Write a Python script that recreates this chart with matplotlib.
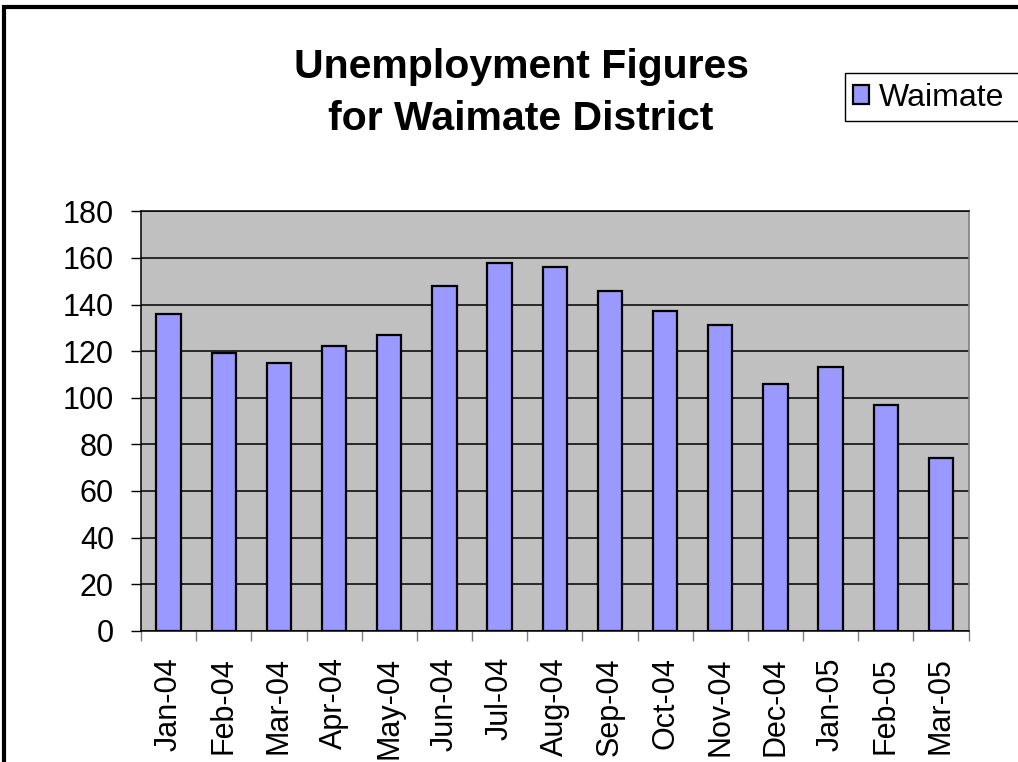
import matplotlib
matplotlib.use("Agg")
import matplotlib.pyplot as plt
from matplotlib.patches import Rectangle

plt.rcParams['font.family'] = ['Liberation Sans', 'DejaVu Sans']

months = ["Jan-04", "Feb-04", "Mar-04", "Apr-04", "May-04", "Jun-04", "Jul-04",
          "Aug-04", "Sep-04", "Oct-04", "Nov-04", "Dec-04", "Jan-05", "Feb-05", "Mar-05"]
waimate = [136, 119, 115, 122, 127, 148, 158, 156, 146, 137, 131, 106, 113, 97, 74]
y_ticks = [0, 20, 40, 60, 80, 100, 120, 140, 160, 180]
title_lines = ["Unemployment Figures", "for Waimate District"]

W, H = 1018, 762
fig = plt.figure(figsize=(W / 100, H / 100), dpi=100)
fig.patch.set_facecolor('white')

# outer chart border (extends past right/bottom edges)
fig.patches.append(Rectangle((4 / W, -0.1), 1.2, 1 - 7 / H + 0.1, transform=fig.transFigure,
                             fill=False, edgecolor='black', linewidth=3, zorder=0))

ax = fig.add_axes([141 / W, 1 - 630.7 / H, (968.5 - 141) / W, 419.4 / H])
ax.set_facecolor('#C0C0C0')
x = list(range(len(months)))
bars = ax.bar(x, waimate, width=0.44, color='#9999FF', edgecolor='black', linewidth=1.6,
              zorder=3, label='Waimate')
ax.set_xlim(-0.5, len(months) - 0.5)
ax.set_ylim(0, 180)
ax.set_yticks(y_ticks)
ax.yaxis.grid(True, color='black', linewidth=1.1, zorder=1)
ax.set_axisbelow(True)
ax.tick_params(axis='y', labelsize=22, direction='out', length=7.5, width=1, pad=12, color='black')
ax.set_xticks(x)
ax.set_xticklabels(months, rotation=90, fontsize=22)
ax.tick_params(axis='x', length=0, pad=19)
ax.set_xticks([i - 0.5 for i in range(len(months) + 1)], minor=True)
ax.tick_params(axis='x', which='minor', length=7.5, width=1, color='#808080', direction='out')
for s in ['left', 'bottom', 'top']:
    ax.spines[s].set_color('black')
    ax.spines[s].set_linewidth(1.1)
ax.spines['right'].set_color('#808080')
ax.spines['right'].set_linewidth(1.2)

fig.text(521 / W, 1 - 78 / H, title_lines[0], ha='center', va='baseline',
         fontsize=29.5, fontweight='bold')
fig.text(521 / W, 1 - 130 / H, title_lines[1], ha='center', va='baseline',
         fontsize=29.5, fontweight='bold')

# legend box
fig.patches.append(Rectangle((845 / W, 1 - 121 / H), 0.3, 48 / H, transform=fig.transFigure,
                             facecolor='white', edgecolor='black', linewidth=1, zorder=1))
leg = fig.legend(handles=[bars], labels=['Waimate'], loc='center left',
                 bbox_to_anchor=(853 / W, 1 - 98 / H), fontsize=23, frameon=False,
                 handlelength=0.5, handleheight=0.55, handletextpad=0.3,
                 borderpad=0, borderaxespad=0)
leg.set_zorder(5)

fig.savefig('out.png', dpi=100)
